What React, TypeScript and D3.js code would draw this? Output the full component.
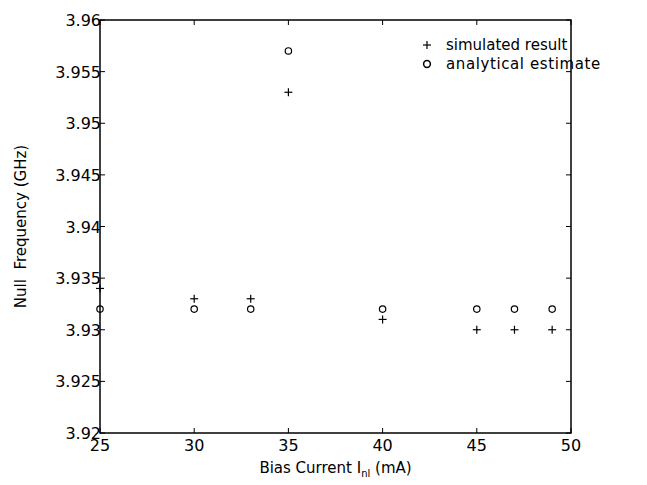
import * as d3 from 'd3'

// Bias current (mA)
const current = [25, 30, 33, 35, 40, 45, 47, 49]
// Null frequency (GHz)
const simulated = [3.934, 3.933, 3.933, 3.953, 3.931, 3.93, 3.93, 3.93]
const analytical = [3.932, 3.932, 3.932, 3.957, 3.932, 3.932, 3.932, 3.932]

const xTicks = [25, 30, 35, 40, 45, 50]
const yTicks = [3.92, 3.925, 3.93, 3.935, 3.94, 3.945, 3.95, 3.955, 3.96]

const width = 647
const height = 485
const margin = { top: 20, right: 76, bottom: 52, left: 100 }
const font = "'DejaVu Sans', sans-serif"

export default function App() {
  const x = d3
    .scaleLinear()
    .domain([25, 50])
    .range([margin.left, width - margin.right])
  const y = d3
    .scaleLinear()
    .domain([3.92, 3.96])
    .range([height - margin.bottom, margin.top])

  const [x0, x1] = x.range()
  const [y0, y1] = y.range()
  const tick = 5

  return (
    <svg
      width={width}
      height={height}
      style={{ position: 'absolute', left: 0, top: 0, background: '#fff' }}
      fontFamily={font}
    >
      <rect x={x0} y={y1} width={x1 - x0} height={y0 - y1} fill="none" stroke="#000" strokeWidth={1.5} />

      {xTicks.map(t => (
        <g key={'x' + t}>
          <line x1={x(t)} x2={x(t)} y1={y0} y2={y0 - tick} stroke="#000" />
          <line x1={x(t)} x2={x(t)} y1={y1} y2={y1 + tick} stroke="#000" />
          <text x={x(t)} y={y0 + 18} textAnchor="middle" fontSize={16}>
            {t}
          </text>
        </g>
      ))}

      {yTicks.map(t => (
        <g key={'y' + t}>
          <line x1={x0} x2={x0 + tick} y1={y(t)} y2={y(t)} stroke="#000" />
          <line x1={x1} x2={x1 - tick} y1={y(t)} y2={y(t)} stroke="#000" />
          <text x={x0 + 1} y={y(t) + 6} textAnchor="end" fontSize={16}>
            {+t.toFixed(3)}
          </text>
        </g>
      ))}

      {current.map((c, i) => (
        <g key={'s' + i} stroke="#000" strokeWidth={1.2}>
          <line x1={x(c) - 4} x2={x(c) + 4} y1={y(simulated[i])} y2={y(simulated[i])} />
          <line x1={x(c)} x2={x(c)} y1={y(simulated[i]) - 4} y2={y(simulated[i]) + 4} />
        </g>
      ))}

      {current.map((c, i) => (
        <circle key={'a' + i} cx={x(c)} cy={y(analytical[i])} r={3.2} fill="none" stroke="#000" strokeWidth={1.2} />
      ))}

      {/* legend */}
      <g stroke="#000" strokeWidth={1.2}>
        <line x1={423} x2={431} y1={45} y2={45} />
        <line x1={427} x2={427} y1={41} y2={49} />
      </g>
      <circle cx={427} cy={64} r={3.4} fill="none" stroke="#000" strokeWidth={1.5} />
      <text x={446} y={50} fontSize={15}>
        simulated result
      </text>
      <text x={446} y={69} fontSize={15} letterSpacing={0.6}>
        analytical estimate
      </text>

      <text x={(x0 + x1) / 2} y={473} textAnchor="middle" fontSize={15}>
        Bias Current I
        <tspan fontSize={10} dy={4}>nl</tspan>
        <tspan dy={-4}> (mA)</tspan>
      </text>
      <text
        transform={`translate(26,${(y0 + y1) / 2}) rotate(-90)`}
        textAnchor="middle"
        fontSize={15}
        style={{ whiteSpace: 'pre' }}
      >
        {'Null  Frequency (GHz)'}
      </text>
    </svg>
  )
}
